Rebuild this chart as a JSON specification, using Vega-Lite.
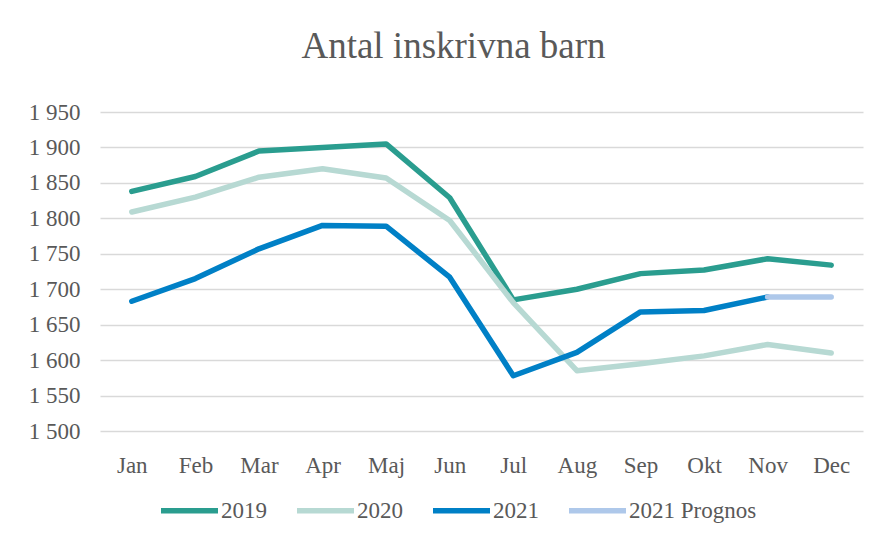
{
  "$schema": "https://vega.github.io/schema/vega-lite/v6.json",
  "width": 763,
  "height": 319,
  "autosize": {"type": "none"},
  "padding": {"left": 100, "top": 112, "right": 28, "bottom": 104},
  "background": "white",
  "title": {
    "text": "Antal inskrivna barn",
    "font": "'Liberation Serif', 'Times New Roman', serif",
    "fontSize": 37,
    "fontWeight": "normal",
    "color": "#595959",
    "anchor": "middle",
    "frame": "group",
    "dx": -28,
    "offset": 35
  },
  "data": {
    "values": [
      {"month": "Jan", "series": "2019", "value": 1838},
      {"month": "Feb", "series": "2019", "value": 1859},
      {"month": "Mar", "series": "2019", "value": 1895},
      {"month": "Apr", "series": "2019", "value": 1900},
      {"month": "Maj", "series": "2019", "value": 1905},
      {"month": "Jun", "series": "2019", "value": 1829},
      {"month": "Jul", "series": "2019", "value": 1685},
      {"month": "Aug", "series": "2019", "value": 1700},
      {"month": "Sep", "series": "2019", "value": 1722},
      {"month": "Okt", "series": "2019", "value": 1727},
      {"month": "Nov", "series": "2019", "value": 1743},
      {"month": "Dec", "series": "2019", "value": 1734},
      {"month": "Jan", "series": "2020", "value": 1809},
      {"month": "Feb", "series": "2020", "value": 1830},
      {"month": "Mar", "series": "2020", "value": 1858},
      {"month": "Apr", "series": "2020", "value": 1870},
      {"month": "Maj", "series": "2020", "value": 1857},
      {"month": "Jun", "series": "2020", "value": 1797},
      {"month": "Jul", "series": "2020", "value": 1681},
      {"month": "Aug", "series": "2020", "value": 1585},
      {"month": "Sep", "series": "2020", "value": 1595},
      {"month": "Okt", "series": "2020", "value": 1606},
      {"month": "Nov", "series": "2020", "value": 1622},
      {"month": "Dec", "series": "2020", "value": 1610},
      {"month": "Jan", "series": "2021", "value": 1683},
      {"month": "Feb", "series": "2021", "value": 1715},
      {"month": "Mar", "series": "2021", "value": 1757},
      {"month": "Apr", "series": "2021", "value": 1790},
      {"month": "Maj", "series": "2021", "value": 1789},
      {"month": "Jun", "series": "2021", "value": 1717},
      {"month": "Jul", "series": "2021", "value": 1578},
      {"month": "Aug", "series": "2021", "value": 1611},
      {"month": "Sep", "series": "2021", "value": 1668},
      {"month": "Okt", "series": "2021", "value": 1670},
      {"month": "Nov", "series": "2021", "value": 1689},
      {"month": "Nov", "series": "2021 Prognos", "value": 1689},
      {"month": "Dec", "series": "2021 Prognos", "value": 1689}
    ]
  },
  "mark": {"type": "line", "strokeWidth": 5.5, "strokeCap": "round", "strokeJoin": "round"},
  "encoding": {
    "x": {
      "field": "month",
      "type": "ordinal",
      "sort": ["Jan", "Feb", "Mar", "Apr", "Maj", "Jun", "Jul", "Aug", "Sep", "Okt", "Nov", "Dec"],
      "scale": {"type": "point", "padding": 0.5},
      "axis": {
        "title": null,
        "labelAngle": 0,
        "domain": false,
        "ticks": false,
        "grid": false,
        "labelPadding": 23,
        "labelFont": "'Liberation Serif', 'Times New Roman', serif",
        "labelFontSize": 23,
        "labelColor": "#595959"
      }
    },
    "y": {
      "field": "value",
      "type": "quantitative",
      "scale": {"domain": [1500, 1950], "zero": false, "nice": false},
      "axis": {
        "title": null,
        "values": [1500, 1550, 1600, 1650, 1700, 1750, 1800, 1850, 1900, 1950],
        "labelExpr": "replace(format(datum.value, ',d'), ',', ' ')",
        "domain": false,
        "ticks": false,
        "labelPadding": 20,
        "labelFont": "'Liberation Serif', 'Times New Roman', serif",
        "labelFontSize": 23,
        "labelColor": "#595959",
        "gridColor": "#d9d9d9",
        "gridWidth": 1.5
      }
    },
    "color": {
      "field": "series",
      "type": "nominal",
      "scale": {
        "domain": ["2019", "2020", "2021", "2021 Prognos"],
        "range": ["#2a9d8f", "#b7d9d3", "#0080c6", "#aec8ea"]
      },
      "legend": {
        "title": null,
        "orient": "none",
        "direction": "horizontal",
        "legendX": 58,
        "legendY": 367,
        "padding": 0,
        "symbolType": "stroke",
        "symbolSize": 3249,
        "symbolStrokeWidth": 5.5,
        "columnPadding": 19,
        "labelOffset": 0,
        "labelFont": "'Liberation Serif', 'Times New Roman', serif",
        "labelFontSize": 23,
        "labelColor": "#595959"
      }
    }
  },
  "config": {"view": {"stroke": null}}
}
